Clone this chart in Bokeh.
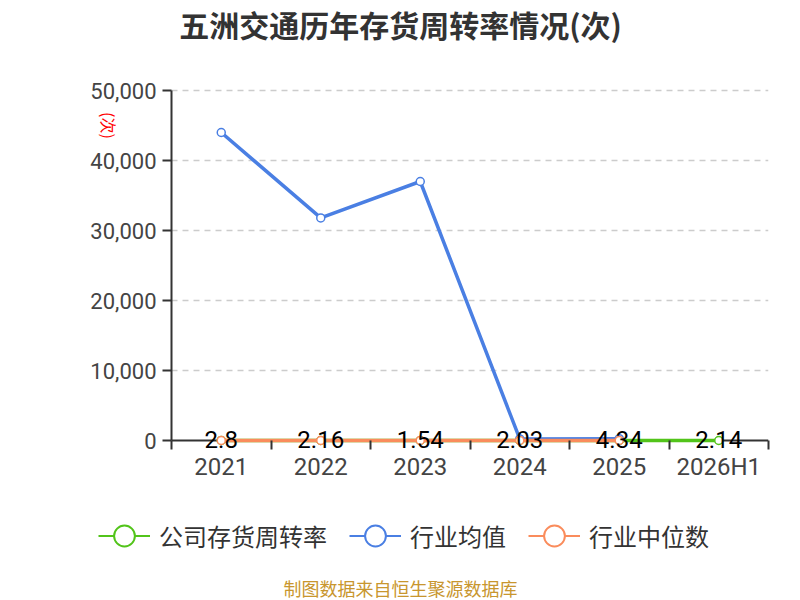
import math
from bokeh.plotting import figure
from bokeh.layouts import column
from bokeh.models import (Range1d, FixedTicker, NumeralTickFormatter,
                          Legend, LegendItem, Label)
from bokeh.embed import file_html
from bokeh.resources import INLINE
from bokeh.core.properties import value

nan = float("nan")

# ---------------- data ----------------
categories = ["2021", "2022", "2023", "2024", "2025", "2026H1"]
company = [2.8, 2.16, 1.54, 2.03, 4.34, 2.14]
company_labels = ["2.8", "2.16", "1.54", "2.03", "4.34", "2.14"]
industry_mean = [44000, 31800, 37000, 230, 260, nan]
industry_median = [3.1, 2.9, 2.7, 2.6, 2.8, nan]
y_ticks = [0, 10000, 20000, 30000, 40000, 50000]
series_names = ["公司存货周转率", "行业均值", "行业中位数"]
title_text = "五洲交通历年存货周转率情况(次)"
unit_text = "(次)"
source_text = "制图数据来自恒生聚源数据库"

GREEN = "#52c41a"
BLUE = "#4a7fe3"
ORANGE = "#fa8c5c"
COLORS = [GREEN, BLUE, ORANGE]
AXIS = "#333333"
CJK = "Noto Sans CJK SC"
NUM = "Roboto"

# ---------------- layout constants (px) ----------------
W = 800
H1, H2 = 489, 111           # main chart / legend strip heights
FL, FR, FB = 84, 768, 449   # main frame left, right, bottom (top = 0)
AX_L = 171                  # pixel column of the y axis (x = 0)
Y0_PX, Y_TOP_PX = 440, 90   # pixel rows of y = 0 and y = max tick
ncat = len(categories)
Y_MAX = y_ticks[-1]
per_px = Y_MAX / (Y0_PX - Y_TOP_PX)
cat_px = (FR - AX_L) / ncat

xs = [i + 0.5 for i in range(ncat)]

p = figure(width=W, height=H1, output_backend="svg", toolbar_location=None,
           x_range=Range1d(-(AX_L - FL) / cat_px, ncat),
           y_range=Range1d(-(FB - Y0_PX) * per_px, Y_MAX + Y_TOP_PX * per_px),
           min_border_left=FL, min_border_right=W - FR, min_border_top=0,
           min_border_bottom=H1 - FB)
p.outline_line_color = None
p.background_fill_color = "white"
p.border_fill_color = "white"
p.xgrid.visible = False
p.ygrid.visible = False

# dashed value grid lines, from the axis to the right end
grid_vals = y_ticks[1:]
p.segment(x0=[0] * len(grid_vals), x1=[ncat] * len(grid_vals),
          y0=grid_vals, y1=grid_vals, line_color="#cccccc",
          line_width=1.5, line_dash="6 5")
# axis lines (y axis from 0 to max, x axis along y = 0)
p.segment(x0=[0, 0], x1=[0, ncat], y0=[0, 0], y1=[Y_MAX, 0],
          line_color=AXIS, line_width=2)

# y axis (ticks + labels) placed at x = 0
ya = p.yaxis[0]
ya.fixed_location = 0
ya.ticker = FixedTicker(ticks=y_ticks)
ya.formatter = NumeralTickFormatter(format="0,0")
ya.axis_line_color = None
ya.major_tick_out = 9
ya.major_tick_in = 0
ya.major_tick_line_color = AXIS
ya.major_tick_line_width = 2
ya.minor_tick_line_color = None
ya.major_label_text_font = NUM
ya.major_label_text_font_size = "22px"
ya.major_label_text_color = "#444444"
ya.major_label_standoff = 6

# x axis below the frame; ticks at category boundaries point up to y = 0
xa = p.xaxis[0]
xa.ticker = FixedTicker(ticks=xs, minor_ticks=list(range(ncat + 1)))
xa.major_label_overrides = {x: c for x, c in zip(xs, categories)}
xa.axis_line_color = None
xa.major_tick_line_color = None
xa.major_tick_out = 0
xa.major_tick_in = 0
xa.minor_tick_out = 0
xa.minor_tick_in = 9
xa.minor_tick_line_color = AXIS
xa.minor_tick_line_width = 2
xa.major_label_text_font = NUM
xa.major_label_text_font_size = "24px"
xa.major_label_text_color = "#444444"
xa.major_label_standoff = 3

# series (company first, then mean, then median on top)
for vals, col in zip([company, industry_mean, industry_median], COLORS):
    p.line(xs, vals, line_color=col, line_width=3.5)
    p.scatter(xs, vals, marker="circle", size=8, fill_color="white",
              line_color=col, line_width=1.5)

# data labels for company
p.text(xs, company, text=company_labels, text_font=value(NUM),
       text_font_size=value("24px"), text_color="black", text_align="center",
       text_baseline="middle", y_offset=-1)

# title and unit
p.add_layout(Label(x=400 - FL, y=FB - 23, x_units="screen", y_units="screen",
                   text=title_text, text_font=CJK, text_font_size="30px",
                   text_font_style="bold", text_color="#333333",
                   text_align="center", text_baseline="middle"))
p.add_layout(Label(x=108 - FL, y=FB - 125, x_units="screen", y_units="screen",
                   text=unit_text, text_font=CJK, text_font_size="16px",
                   text_color="red", angle=-math.pi / 2,
                   text_align="center", text_baseline="middle"))

# ---------------- legend + source strip ----------------
q = figure(width=W, height=H2, output_backend="svg", toolbar_location=None,
           x_range=Range1d(0, 1), y_range=Range1d(0, 1),
           x_axis_location=None, y_axis_location=None, min_border=0)
q.outline_line_color = None
q.grid.visible = False
q.background_fill_color = "white"
q.border_fill_color = "white"

# legend-only renderers (their single point lies outside the strip's range)
items = []
for name, col in zip(series_names, COLORS):
    lr = q.line([-1, -2], [-1, -2], line_color=col, line_width=2)
    sr = q.scatter([-1], [-1], marker="circle", size=22, fill_color="white",
                   line_color=col, line_width=2)
    items.append(LegendItem(label=name, renderers=[lr, sr]))

LEG_H = 55
legend_top = 507.5 - H1
legend = Legend(items=items, orientation="horizontal", glyph_width=52,
                glyph_height=LEG_H, label_standoff=9, spacing=22, padding=0,
                margin=0, border_line_color=None, background_fill_alpha=0,
                label_text_font=CJK, label_text_font_size="24px",
                label_text_color="#333333",
                location=(98 - FL, H2 - legend_top - LEG_H))
q.add_layout(legend)

q.add_layout(Label(x=400 - FL, y=H2 - (587 - H1), x_units="screen", y_units="screen",
                   text=source_text, text_font=CJK, text_font_size="18px",
                   text_color="#c8962e", text_align="center",
                   text_baseline="middle"))

open("out.html", "w").write(file_html(column(p, q, spacing=0), INLINE))
